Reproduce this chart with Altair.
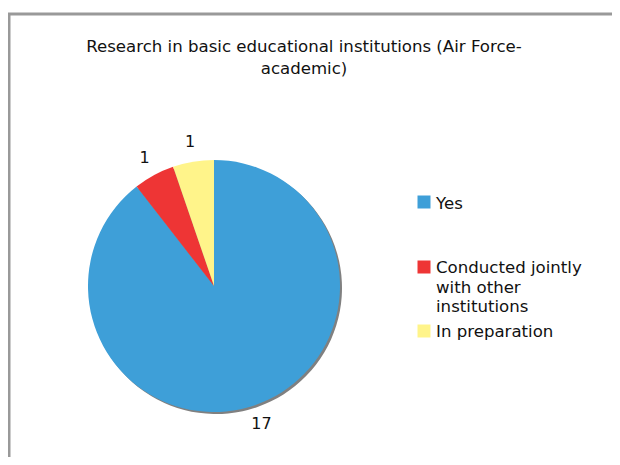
import altair as alt
import pandas as pd

categories = ["Yes", "Conducted jointly with other institutions", "In preparation"]
values = [17, 1, 1]
legend_lines = [["Yes"], ["Conducted jointly", "with other", "institutions"], ["In preparation"]]
title_lines = ["Research in basic educational institutions (Air Force-", "academic)"]
colors = ["#3E9FD8", "#EE3535", "#FFF48A"]

df = pd.DataFrame({"category": categories, "value": values, "idx": list(range(len(values)))})

# legend layout (pixel offsets, chart coordinates)
leg_sym_y = [188, 253, 317]
leg_txt_y = [195, 259, 323]
leg = pd.DataFrame({
    "category": categories,
    "lines": legend_lines,
    "sy": leg_sym_y,
    "ty": leg_txt_y,
})

W, H = 603, 443
CX, CY, R = 205, 272, 126
color_scale = alt.Scale(domain=categories, range=colors)
one = pd.DataFrame({"t": [0]})

frame_left = alt.Chart(one).mark_rule(color="#999999", strokeWidth=3).encode(
    x=alt.value(0), y=alt.value(0), y2=alt.value(H + 10))
frame_top = alt.Chart(one).mark_rule(color="#999999", strokeWidth=3).encode(
    x=alt.value(-2), x2=alt.value(W + 10), y=alt.value(0))

base = alt.Chart(df)

shadow = base.mark_arc(outerRadius=R, color="#808080").encode(
    theta=alt.Theta("value:Q", stack=True),
    order=alt.Order("idx:Q"),
    x=alt.value(CX + 2), y=alt.value(CY + 2),
)

pie = base.mark_arc(outerRadius=R).encode(
    theta=alt.Theta("value:Q", stack=True),
    color=alt.Color("category:N", scale=color_scale, legend=None),
    order=alt.Order("idx:Q"),
    x=alt.value(CX), y=alt.value(CY),
)

labels = base.mark_text(radius=146, font="DejaVu Sans", fontSize=16, color="#111111",
                        baseline="middle", align="center").encode(
    theta=alt.Theta("value:Q", stack=True),
    order=alt.Order("idx:Q"),
    text=alt.Text("value:Q"),
    x=alt.value(CX), y=alt.value(CY),
)

title = alt.Chart(one).mark_text(
    font="DejaVu Sans", fontSize=16.6, color="#111111", align="center",
    baseline="alphabetic", lineHeight=22,
).encode(x=alt.value(295), y=alt.value(38), text=alt.value(title_lines))

leg_sym = alt.Chart(leg).mark_square(size=169, opacity=1).encode(
    x=alt.value(415),
    y=alt.Y("sy:Q", scale=None),
    color=alt.Color("category:N", scale=color_scale, legend=None),
)

leg_txt = alt.Chart(leg).mark_text(
    font="DejaVu Sans", fontSize=16.6, color="#111111", align="left",
    baseline="alphabetic", lineHeight=19.5,
).encode(
    x=alt.value(427),
    y=alt.Y("ty:Q", scale=None),
    text=alt.Text("lines"),
)

chart = alt.layer(frame_left, frame_top, shadow, pie, labels, title, leg_sym, leg_txt).properties(
    width=W, height=H,
    autosize=alt.AutoSizeParams(type="none"),
    padding={"left": 1, "top": 6, "right": 0, "bottom": 0},
).configure_view(stroke=None).configure(background="white")

chart.save("out.html", embed_options={"renderer": "svg", "actions": False})
